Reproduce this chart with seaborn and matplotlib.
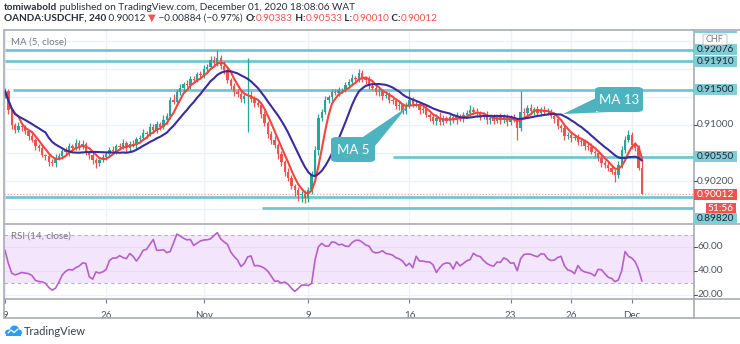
import numpy as np
import pandas as pd
import matplotlib
matplotlib.use("Agg")
import matplotlib.pyplot as plt
import seaborn as sns
from matplotlib.patches import Rectangle, FancyBboxPatch, Polygon, Ellipse
from matplotlib.lines import Line2D

# ---------------- data ----------------
first_open = 0.91420
closes = [
    0.91486, 0.91214, 0.91000, 0.90929, 0.90986, 0.90971, 0.90914, 0.90843, 0.90786, 0.90700,
    0.90671, 0.90571, 0.90557, 0.90471, 0.90457, 0.90529, 0.90557, 0.90629, 0.90614, 0.90700,
    0.90671, 0.90743, 0.90686, 0.90729, 0.90614, 0.90571, 0.90500, 0.90457, 0.90500, 0.90543,
    0.90586, 0.90643, 0.90629, 0.90700, 0.90686, 0.90743, 0.90671, 0.90729, 0.90714, 0.90800,
    0.90814, 0.90886, 0.90871, 0.90971, 0.90929, 0.91014, 0.90971, 0.91071, 0.91129, 0.91357,
    0.91329, 0.91471, 0.91529, 0.91586, 0.91571, 0.91657, 0.91643, 0.91729, 0.91714, 0.91800,
    0.91829, 0.91929, 0.91886, 0.91957, 0.91843, 0.91786, 0.91643, 0.91557, 0.91471, 0.91443,
    0.91371, 0.91414, 0.91429, 0.91371, 0.91314, 0.91286, 0.91157, 0.91029, 0.90871, 0.90786,
    0.90714, 0.90586, 0.90471, 0.90329, 0.90243, 0.90129, 0.90071, 0.90000, 0.90014, 0.89957,
    0.90071, 0.90286, 0.90643, 0.91100, 0.91186, 0.91357, 0.91400, 0.91471, 0.91457, 0.91500,
    0.91500, 0.91571, 0.91614, 0.91671, 0.91657, 0.91743, 0.91671, 0.91643, 0.91557, 0.91529,
    0.91471, 0.91486, 0.91414, 0.91429, 0.91357, 0.91343, 0.91271, 0.91286, 0.91200, 0.91271,
    0.91357, 0.91300, 0.91300, 0.91214, 0.91229, 0.91143, 0.91114, 0.91057, 0.91100, 0.91043,
    0.91100, 0.91057, 0.91114, 0.91071, 0.91129, 0.91086, 0.91143, 0.91171, 0.91214, 0.91186,
    0.91171, 0.91114, 0.91143, 0.91071, 0.91100, 0.91057, 0.91114, 0.91071, 0.91114, 0.91043,
    0.91100, 0.91071, 0.90957, 0.91186, 0.91171, 0.91243, 0.91200, 0.91229, 0.91171, 0.91214,
    0.91186, 0.91200, 0.91129, 0.91086, 0.90986, 0.90957, 0.90843, 0.90857, 0.90814, 0.90829,
    0.90757, 0.90771, 0.90700, 0.90686, 0.90614, 0.90600, 0.90529, 0.90457, 0.90429, 0.90386,
    0.90329, 0.90286, 0.90429, 0.90643, 0.90786, 0.90857, 0.90714, 0.90671, 0.90383, 0.90012,
]
upper_wick_pips = [
    4, 3, 2, 3, 5, 4, 3, 2, 4, 3,
    3, 4, 2, 3, 5, 6, 4, 3, 5, 4,
    3, 5, 4, 6, 3, 2, 4, 3, 5, 4,
    3, 4, 5, 3, 4, 6, 3, 4, 5, 3,
    4, 5, 3, 6, 4, 5, 3, 7, 4, 5,
    8, 4, 5, 3, 6, 4, 5, 3, 4, 6,
    4, 5, 6, 11, 5, 7, 4, 3, 5, 4,
    6, 5, 53, 6, 4, 5, 3, 4, 3, 4,
    5, 3, 4, 3, 5, 4, 3, 4, 5, 6,
    4, 5, 6, 5, 4, 6, 3, 4, 5, 4,
    3, 5, 4, 6, 3, 5, 4, 3, 5, 4,
    6, 4, 3, 5, 4, 3, 4, 5, 3, 6,
    16, 4, 5, 3, 4, 6, 3, 4, 5, 8,
    4, 3, 5, 4, 6, 3, 4, 5, 7, 4,
    5, 3, 4, 6, 4, 5, 3, 6, 4, 5,
    4, 6, 3, 30, 5, 4, 6, 3, 4, 5,
    6, 4, 3, 5, 4, 3, 5, 4, 6, 3,
    4, 5, 3, 4, 5, 3, 4, 3, 5, 4,
    3, 4, 6, 5, 6, 7, 4, 5, 4, 15,
]
lower_wick_pips = [
    3, 5, 6, 4, 3, 5, 4, 6, 3, 5,
    4, 3, 5, 6, 4, 5, 3, 4, 3, 5,
    4, 3, 5, 3, 4, 6, 5, 7, 4, 3,
    5, 4, 3, 5, 4, 3, 6, 4, 3, 5,
    4, 3, 5, 3, 4, 5, 4, 3, 5, 4,
    3, 5, 4, 6, 3, 5, 4, 3, 5, 4,
    6, 3, 4, 5, 4, 6, 5, 4, 6, 5,
    4, 6, 51, 4, 5, 3, 6, 4, 5, 6,
    4, 7, 5, 6, 4, 5, 9, 8, 10, 7,
    6, 5, 4, 7, 5, 3, 4, 6, 3, 4,
    5, 3, 4, 6, 3, 4, 5, 6, 4, 3,
    4, 5, 6, 3, 4, 5, 4, 6, 5, 4,
    3, 5, 4, 6, 4, 3, 5, 4, 6, 5,
    4, 3, 5, 4, 6, 3, 4, 5, 4, 3,
    5, 4, 3, 6, 5, 4, 3, 5, 4, 6,
    4, 3, 17, 4, 5, 3, 4, 6, 3, 4,
    5, 4, 3, 6, 4, 5, 6, 4, 5, 3,
    4, 6, 5, 4, 3, 5, 4, 6, 5, 4,
    3, 10, 4, 5, 4, 3, 5, 4, 3, 0,
]
rsi_values = [
    57, 46, 38, 36.5, 37.5, 38.5, 38, 37.5, 36, 32,
    31, 30.7, 29.5, 26, 23.8, 25.5, 30.5, 36.5, 39.5, 41,
    40.5, 42.5, 43.8, 46.5, 46, 35, 33, 39, 38, 39,
    41, 48.5, 50.6, 50.5, 52.5, 51, 50, 54.3, 52, 48,
    52, 57, 57.8, 62, 66, 57, 57, 57.5, 55, 56,
    63, 70.5, 69, 67, 65.7, 66, 61, 63, 64.8, 65.6,
    65.8, 66.5, 69.3, 71.7, 66.5, 64, 62, 55.5, 51.8, 49,
    43.5, 46, 51.5, 52.3, 44, 44.3, 43.5, 42, 39.5, 35.5,
    31.2, 31.4, 29.7, 30.5, 28.7, 25.3, 22.8, 25.2, 28, 28.1,
    27.6, 29.5, 49, 60, 62.8, 60.5, 60.4, 64, 63.5, 61.5,
    62, 60.5, 60.2, 63.5, 65.3, 65.4, 63.8, 61.4, 60.6, 56,
    54.8, 55.3, 56.6, 54.4, 53.8, 53, 50.8, 49.8, 48, 44,
    46.2, 42.5, 52, 48, 48, 47.4, 47.2, 45, 38.5, 42.5,
    45.5, 46.5, 46.1, 41.4, 47.5, 44, 46, 48.2, 49.2, 54.5,
    52.5, 51.8, 48.5, 46, 44.5, 43.8, 47.2, 46.9, 50.7, 49.3,
    46.3, 46.5, 40, 50, 53.5, 53.9, 53.7, 52.5, 51.6, 54,
    53.8, 50, 48.5, 48.8, 51, 52, 44, 40.6, 39.8, 37.5,
    44.3, 40.5, 39, 38.3, 37.5, 35.6, 41.1, 40.8, 37.5, 34.5,
    33.6, 30.8, 32.3, 40, 55.9, 52, 50.5, 47.5, 41, 31.4,
]
level_prices = [0.92076, 0.91910, 0.91500, 0.90550, 0.89967, 0.89820]
level_start_idx = [0, 0, 2.4, 115, 0, 76.3]
level_labels = ["0.92076", "0.91910", "0.91500", "0.90550", None, "0.89820"]
price_tick_values = [0.91000, 0.90200]
rsi_tick_values = [60, 40, 20]
date_tick_idx = [0, 30, 59, 90, 120, 150, 168, 186]
date_tick_labels = ["9", "26", "Nov", "9", "16", "23", "26", "Dec"]
last_price = 0.90012
countdown = "51:56"

# ---------------- style ----------------
sns.set_theme(style="white")
plt.rcParams["font.family"] = ["Lato", "DejaVu Sans"]

UP, DOWN = "#26a69a", "#ef5350"
MA5_C, MA13_C = "#f2453f", "#3b2c9c"
LEVEL_C, LABEL_C, CALLOUT_C = "#72c6d3", "#82cbd7", "#4db3be"
RSI_C, BAND_C = "#b55fc9", "#f3e6fc"
FRAME_C, GRID_C = "#a8abb3", "#eef1f6"
TEXT_C, AXT_C = "#2a2e39", "#50535e"

W, H = 740, 344
fig = plt.figure(figsize=(W / 100, H / 100), dpi=100)
fig.patch.set_facecolor("white")


def fx(px):
    return px / W


def fy(py):
    return 1 - py / H


L, R = 4, 694
MT, MB = 30, 223.5
RT, RB = 224.5, 298.5
XMIN, XMAX = -0.3, 204.45
YMIN, YMAX = 0.895929, 0.923571
RMIN, RMAX = 16.83, 78.5

ax = fig.add_axes([fx(L), fy(MB), fx(R) - fx(L), fy(MT) - fy(MB)])
axr = fig.add_axes([fx(L), fy(RB), fx(R) - fx(L), fy(RT) - fy(RB)])
for a in (ax, axr):
    a.set_facecolor("none")
    for s in a.spines.values():
        s.set_visible(False)
    a.set_xlim(XMIN, XMAX)
ax.set_ylim(YMIN, YMAX)
axr.set_ylim(RMIN, RMAX)


def py_main(v):
    return MT + (YMAX - v) / (YMAX - YMIN) * (MB - MT)


def py_rsi(v):
    return RT + (RMAX - v) / (RMAX - RMIN) * (RB - RT)


# ---------------- candles + MAs ----------------
n = len(closes)
idx = np.arange(n)
c = np.array(closes)
o = np.r_[first_open, c[:-1]]
hi = np.maximum(o, c) + np.array(upper_wick_pips) * 1e-4
lo = np.minimum(o, c) - np.array(lower_wick_pips) * 1e-4
col = np.where(c >= o, UP, DOWN)
df = pd.DataFrame({"idx": idx, "close": c})
df["ma5"] = df["close"].rolling(5, min_periods=1).mean()
df["ma13"] = df["close"].rolling(13, min_periods=1).mean()

for t in date_tick_idx:
    ax.axvline(t, color=GRID_C, lw=1, zorder=0)
    axr.axvline(t, color=GRID_C, lw=1, zorder=0)
for g in np.arange(0.898, 0.9225, 0.004):
    ax.axhline(g, color=GRID_C, lw=1, zorder=0)

ax.hlines(level_prices, level_start_idx, XMAX, color=LEVEL_C, lw=2, zorder=2)
ax.axhline(last_price, color="#f4a0a0", lw=0.9, ls=(0, (1, 1.5)), zorder=2)

ax.vlines(idx, lo, hi, colors=col, lw=0.9, zorder=3)
body = np.maximum(np.abs(c - o), 0.00003)
ax.bar(idx, body, bottom=np.minimum(o, c), width=0.7, color=col, lw=0, zorder=3)

sns.lineplot(data=df, x="idx", y="ma5", ax=ax, color=MA5_C, lw=1.5, zorder=4)
sns.lineplot(data=df, x="idx", y="ma13", ax=ax, color=MA13_C, lw=1.5, zorder=4)

# ---------------- RSI ----------------
axr.axhspan(30, 70, color=BAND_C, zorder=0, lw=0)
for g in rsi_tick_values:
    axr.axhline(g, color="#e9ddf3" if g != 20 else GRID_C, lw=0.8, zorder=0)
axr.axhline(70, color="#b4b0bd", lw=0.8, ls=(0, (3, 3)), zorder=1)
axr.axhline(30, color="#b4b0bd", lw=0.8, ls=(0, (3, 3)), zorder=1)
rsi_df = pd.DataFrame({"idx": np.arange(len(rsi_values)), "rsi": rsi_values})
sns.lineplot(data=rsi_df, x="idx", y="rsi", ax=axr, color=RSI_C, lw=1.2, zorder=3)

for a in (ax, axr):
    a.set_xlabel("")
    a.set_ylabel("")
    a.tick_params(left=False, labelleft=False)
ax.tick_params(bottom=False, labelbottom=False)
axr.set_xticks(date_tick_idx, date_tick_labels)
axr.tick_params(axis="x", bottom=True, length=3, width=0.8, color="#787b86",
                labelsize=7, labelcolor=AXT_C, pad=6)

# ---------------- frame ----------------
def fline(x0, y0, x1, y1, color=FRAME_C, lw=1.2):
    fig.add_artist(Line2D([fx(x0), fx(x1)], [fy(y0), fy(y1)], color=color, lw=lw,
                          transform=fig.transFigure))


fline(L, MT, W, MT)
fline(L, MT, L, 318)
fline(R, MT, R, 318)
fline(L, 224, W, 224)
fline(L, RB, W, RB)
fline(L, 318, W, 318)


def frect(x0, y0, x1, y1, fc, ec="none", lw=0, z=5):
    fig.add_artist(Rectangle((fx(x0), fy(y1)), fx(x1) - fx(x0), fy(y0) - fy(y1),
                             transform=fig.transFigure, fc=fc, ec=ec, lw=lw, zorder=z))


def ftext(x, y, s, color=AXT_C, size=7, ha="left", weight="normal", z=6):
    return fig.text(fx(x), fy(y), s, color=color, fontsize=size, ha=ha, va="center",
                    fontweight=weight, zorder=z)


# price axis labels
for v in price_tick_values:
    yy = py_main(v)
    fline(R, yy, R + 3, yy, color=AXT_C, lw=0.8)
    ftext(697, yy, f"{v:.5f}", size=7.3)
frect(R, 30.5, 737, 33, LABEL_C)
for v, lab in zip(level_prices, level_labels):
    if lab is None:
        continue
    yy = py_main(v)
    if lab == "0.89820":
        yy = MB - 5
    frect(R, yy - 5.5, 737, yy + 5.5, LABEL_C)
    ftext(697, yy, lab, color="#1d2a33", size=7.3)
yy = py_main(last_price)
frect(R, yy - 5.5, 737, yy + 5.5, DOWN)
ftext(697, yy, f"{last_price:.5f}", color="white", size=7.3)
frect(706, yy + 9, 736, yy + 19, DOWN)
ftext(721, yy + 14, countdown, color="white", ha="center", size=7.3)
fig.add_artist(FancyBboxPatch((fx(703), fy(45)), fx(24), 11 / H,
                              boxstyle="round,pad=0,rounding_size=0.004",
                              transform=fig.transFigure, fc="white", ec="#c9ccd2", lw=0.8, zorder=7))
ftext(715, 39.5, "CHF", color="#787b86", size=6.5, ha="center", z=8)

for v in rsi_tick_values:
    yy = py_rsi(v)
    fline(R, yy, R + 3, yy, color=AXT_C, lw=0.8)
    ftext(698, yy, f"{v:.2f}", size=7.3)

# ---------------- callouts ----------------
def callout(x0, y0, x1, y1, tri, text):
    fig.add_artist(Polygon([(fx(px), fy(py)) for px, py in tri], closed=True,
                           transform=fig.transFigure, fc=CALLOUT_C, ec="none", zorder=8))
    fig.add_artist(FancyBboxPatch((fx(x0), fy(y1)), fx(x1) - fx(x0), fy(y0) - fy(y1),
                                  boxstyle="round,pad=0,rounding_size=0.008",
                                  transform=fig.transFigure, fc=CALLOUT_C, ec="none", zorder=8))
    ftext((x0 + x1) / 2, (y0 + y1) / 2, text, color="white", size=9.5, ha="center", z=9)


callout(331, 137, 375, 162, [(360, 139), (375, 139), (375, 146), (407, 107)], "MA 5")
callout(595, 87, 643, 112, [(596, 98), (596, 112), (610, 112), (563, 114)], "MA 13")

# ---------------- titles ----------------
renderer = fig.canvas.get_renderer()


def runs(x, y, parts, size=7.2):
    for s, color, weight in parts:
        t = ftext(x, y, s, color=color, size=size, weight=weight)
        x += t.get_window_extent(renderer=renderer).width


runs(4, 7, [("tomiwabold", TEXT_C, "bold"),
            (" published on TradingView.com, December 01, 2020 18:08:06 WAT", TEXT_C, "normal")])
runs(4, 18.5, [("OANDA:USDCHF, 240", TEXT_C, "bold"), (" 0.90012 ", TEXT_C, "normal"),
               ("▼", DOWN, "normal"), (" \u22120.00884 (\u22120.97%) ", TEXT_C, "normal"),
               ("O:", TEXT_C, "bold"), ("0.90383", DOWN, "normal"),
               (" H:", TEXT_C, "bold"), ("0.90533", DOWN, "normal"),
               (" L:", TEXT_C, "bold"), ("0.90010", DOWN, "normal"),
               (" C:", TEXT_C, "bold"), ("0.90012", DOWN, "normal")])
ftext(11, 42.5, "MA (5, close)", color="#787b86", size=7)
ftext(11, 236, "RSI (14, close)", color="#787b86", size=7)

# logo
for (ex, ey, ew, eh) in [(9, 332.5, 8, 6), (14.5, 329.5, 9, 8), (19, 332.5, 6, 6)]:
    fig.add_artist(Ellipse((fx(ex), fy(ey)), ew / W, eh / H, transform=fig.transFigure,
                           fc="#2a9df4", ec="none", zorder=5))
frect(6, 332, 21, 335.5, "#2a9df4")
fig.add_artist(Line2D([fx(8), fx(11), fx(14), fx(18)], [fy(333), fy(330), fy(332.5), fy(329)],
                      color="white", lw=0.9, transform=fig.transFigure, zorder=6))
ftext(23.5, 331.5, "TradingView", color="#3a3e48", size=8)

fig.savefig("out.png", dpi=100, facecolor="white")
